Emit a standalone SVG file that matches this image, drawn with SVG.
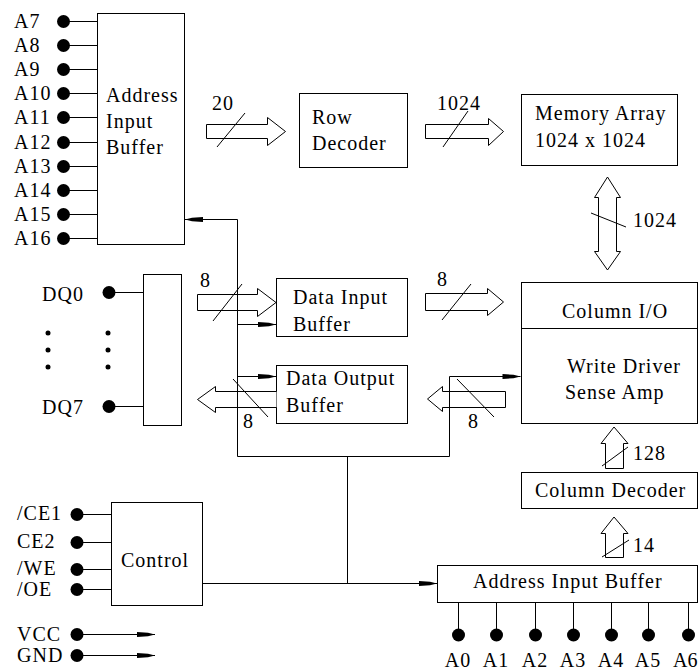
<svg xmlns="http://www.w3.org/2000/svg" width="699" height="670" viewBox="0 0 699 670">
<defs>
<style>
.bx{fill:#fff;stroke:#000;stroke-width:1}
.ln{fill:none;stroke:#000;stroke-width:1}
.bus{fill:#fff;stroke:#000;stroke-width:1}
.sl{stroke:#000;stroke-width:1}
.dot{fill:#000}
text{font-family:'Liberation Serif','DejaVu Serif',serif;font-size:20px;letter-spacing:1px;fill:#000}
.mid{text-anchor:middle}
</style>
<marker id="ah" markerUnits="userSpaceOnUse" markerWidth="20" markerHeight="8" viewBox="0 0 20 8" refX="20" refY="4" orient="auto">
<path d="M20,4 L13,2.2 L2,1.6 L2,6.4 L13,5.8 Z" fill="#000"/>
</marker>
</defs>
<rect width="699" height="670" fill="#fff"/>

<g id="addr-buffer-left">
<rect class="bx" x="97.5" y="13.5" width="87" height="231"/>
<text x="106" y="102">Address</text>
<text x="106" y="128">Input</text>
<text x="106" y="154">Buffer</text>
</g>

<g id="addr-pins-left">
<path class="ln" d="M63,21.5H97.5M63,45.5H97.5M63,69.5H97.5M63,93.5H97.5M63,117.5H97.5M63,142.5H97.5M63,166.5H97.5M63,190.5H97.5M63,214.5H97.5M63,238.5H97.5"/>
<circle class="dot" cx="63.5" cy="21.5" r="6.5"/>
<circle class="dot" cx="63.5" cy="45.5" r="6.5"/>
<circle class="dot" cx="63.5" cy="69.5" r="6.5"/>
<circle class="dot" cx="63.5" cy="93.5" r="6.5"/>
<circle class="dot" cx="63.5" cy="117.5" r="6.5"/>
<circle class="dot" cx="63.5" cy="142.5" r="6.5"/>
<circle class="dot" cx="63.5" cy="166.5" r="6.5"/>
<circle class="dot" cx="63.5" cy="190.5" r="6.5"/>
<circle class="dot" cx="63.5" cy="214.5" r="6.5"/>
<circle class="dot" cx="63.5" cy="238.5" r="6.5"/>
<text x="14" y="28">A7</text>
<text x="14" y="52">A8</text>
<text x="14" y="76">A9</text>
<text x="14" y="100">A10</text>
<text x="14" y="124">A11</text>
<text x="14" y="149">A12</text>
<text x="14" y="173">A13</text>
<text x="14" y="197">A14</text>
<text x="14" y="221">A15</text>
<text x="14" y="245">A16</text>
</g>

<g id="row-decoder">
<rect class="bx" x="299.5" y="93.5" width="108" height="74"/>
<text x="312" y="124">Row</text>
<text x="312" y="150">Decoder</text>
</g>

<g id="memory-array">
<rect class="bx" x="521.5" y="94.5" width="156" height="71"/>
<text x="535" y="120">Memory Array</text>
<text x="535" y="147">1024 x 1024</text>
</g>

<g id="column-io">
<rect class="bx" x="521.5" y="282.5" width="176" height="141"/>
<path class="ln" d="M521.5,328.5H697.5"/>
<text x="562" y="318">Column I/O</text>
<text x="567" y="373">Write Driver</text>
<text x="565" y="399">Sense Amp</text>
</g>

<g id="column-decoder">
<rect class="bx" x="521.5" y="472.5" width="176" height="36"/>
<text x="535" y="497">Column Decoder</text>
</g>

<g id="addr-buffer-bottom">
<rect class="bx" x="437.5" y="565.5" width="260" height="37"/>
<text x="473" y="588">Address Input Buffer</text>
</g>

<g id="addr-pins-bottom">
<path class="ln" d="M458.5,602.5V635M496.5,602.5V635M535.5,602.5V635M573.5,602.5V635M611.5,602.5V635M648.5,602.5V635M688.5,602.5V635"/>
<circle class="dot" cx="458.5" cy="635" r="6.5"/>
<circle class="dot" cx="496.5" cy="635" r="6.5"/>
<circle class="dot" cx="535.5" cy="635" r="6.5"/>
<circle class="dot" cx="573.5" cy="635" r="6.5"/>
<circle class="dot" cx="611.5" cy="635" r="6.5"/>
<circle class="dot" cx="648.5" cy="635" r="6.5"/>
<circle class="dot" cx="688.5" cy="635" r="6.5"/>
<text class="mid" x="458" y="667">A0</text>
<text class="mid" x="496" y="667">A1</text>
<text class="mid" x="535" y="667">A2</text>
<text class="mid" x="573" y="667">A3</text>
<text class="mid" x="611" y="667">A4</text>
<text class="mid" x="648" y="667">A5</text>
<text x="673" y="667" style="letter-spacing:0">A6</text>
</g>

<g id="control">
<rect class="bx" x="111.5" y="502.5" width="91" height="103"/>
<text x="121" y="567">Control</text>
</g>

<g id="control-pins">
<path class="ln" d="M77,514.5H111.5M77,542.5H111.5M77,569.5H111.5M77,589.5H111.5"/>
<circle class="dot" cx="77" cy="514.5" r="6.5"/>
<circle class="dot" cx="77" cy="542.5" r="6.5"/>
<circle class="dot" cx="77" cy="569.5" r="6.5"/>
<circle class="dot" cx="77" cy="589.5" r="6.5"/>
<text x="17" y="520">/CE1</text>
<text x="17" y="548">CE2</text>
<text x="17" y="575">/WE</text>
<text x="17" y="596">/OE</text>
</g>

<g id="power-pins">
<circle class="dot" cx="77" cy="634.5" r="6.5"/>
<circle class="dot" cx="77" cy="655.5" r="6.5"/>
<text x="17" y="641">VCC</text>
<text x="17" y="662">GND</text>
</g>

<g id="dq-pins">
<rect class="bx" x="143.5" y="274.5" width="38" height="151"/>
<path class="ln" d="M109,292.5H143.5M109,406.5H143.5"/>
<circle class="dot" cx="109" cy="292.5" r="6.5"/>
<circle class="dot" cx="109" cy="406.5" r="6.5"/>
<circle class="dot" cx="48" cy="333" r="2.5"/>
<circle class="dot" cx="48" cy="350" r="2.5"/>
<circle class="dot" cx="48" cy="367" r="2.5"/>
<circle class="dot" cx="108" cy="333" r="2.5"/>
<circle class="dot" cx="108" cy="350" r="2.5"/>
<circle class="dot" cx="108" cy="367" r="2.5"/>
<text x="42" y="301">DQ0</text>
<text x="42" y="414">DQ7</text>
</g>

<g id="data-input-buffer">
<rect class="bx" x="276.5" y="278.5" width="131" height="58"/>
<text x="293" y="304">Data Input</text>
<text x="293" y="331">Buffer</text>
</g>

<g id="data-output-buffer">
<rect class="bx" x="276.5" y="365.5" width="131" height="58"/>
<text x="286" y="385">Data Output</text>
<text x="286" y="412">Buffer</text>
</g>

<g id="connectors">
<path class="bus" d="M206.5,124.5H267.5V117.5L285.5,131.5L267.5,145.5V138.5H206.5Z"/>
<line class="sl" x1="217" y1="147" x2="245" y2="113"/>
<text x="212" y="110">20</text>

<path class="bus" d="M425.5,124.5H488.5V118.5L503.5,131.5L488.5,145.5V138.5H425.5Z"/>
<line class="sl" x1="443" y1="147" x2="468" y2="111"/>
<text x="437" y="110">1024</text>

<path class="bus" d="M607.5,177L620.5,197.5H616.5V251.5H620.5L607.5,270L594.5,251.5H598.5V197.5H594.5Z"/>
<line class="sl" x1="591" y1="213" x2="626" y2="227"/>
<text x="633" y="227">1024</text>

<path class="bus" d="M197.5,294.5H257.5V288.5L276,302.5L257.5,316.5V310.5H197.5Z"/>
<line class="sl" x1="213" y1="321" x2="242" y2="284"/>
<text x="200" y="287">8</text>

<path class="bus" d="M425.5,293.5H487.5V288.5L503.5,302L487.5,315.5V310.5H425.5Z"/>
<line class="sl" x1="442" y1="320" x2="471" y2="284"/>
<text x="437" y="286">8</text>

<path class="bus" d="M276.5,391.5H215.5V386.5L197.5,399.5L215.5,412.5V407.5H276.5"/>
<line class="sl" x1="233" y1="379" x2="268" y2="417"/>
<text x="243" y="428">8</text>

<path class="bus" d="M505.5,391.5H442.5V386.5L427.5,399L442.5,411.5V407.5H505.5Z"/>
<line class="sl" x1="457" y1="379" x2="494" y2="417"/>
<text x="468" y="428">8</text>

<path class="bus" d="M614,427L628,443.5H623.5V468.5H605.5V443.5H601Z"/>
<line class="sl" x1="602" y1="466" x2="628" y2="447"/>
<text x="633" y="460">128</text>

<path class="bus" d="M614,517L628,533.5H623.5V557.5H605.5V533.5H601Z"/>
<line class="sl" x1="602" y1="557" x2="629" y2="540"/>
<text x="633" y="552">14</text>

<path class="ln" d="M237.5,219.5H185" marker-end="url(#ah)"/>
<path class="ln" d="M237.5,219.5V456.5H449.5V376.5H520.5" marker-end="url(#ah)"/>
<path class="ln" d="M237.5,324.5H276" marker-end="url(#ah)"/>
<path class="ln" d="M237.5,376.5H276" marker-end="url(#ah)"/>
<path class="ln" d="M347.5,456.5V583.5"/>
<path class="ln" d="M202.5,583.5H437" marker-end="url(#ah)"/>
<path class="ln" d="M77,634.5H155" marker-end="url(#ah)"/>
<path class="ln" d="M77,655.5H155" marker-end="url(#ah)"/>
</g>
</svg>
